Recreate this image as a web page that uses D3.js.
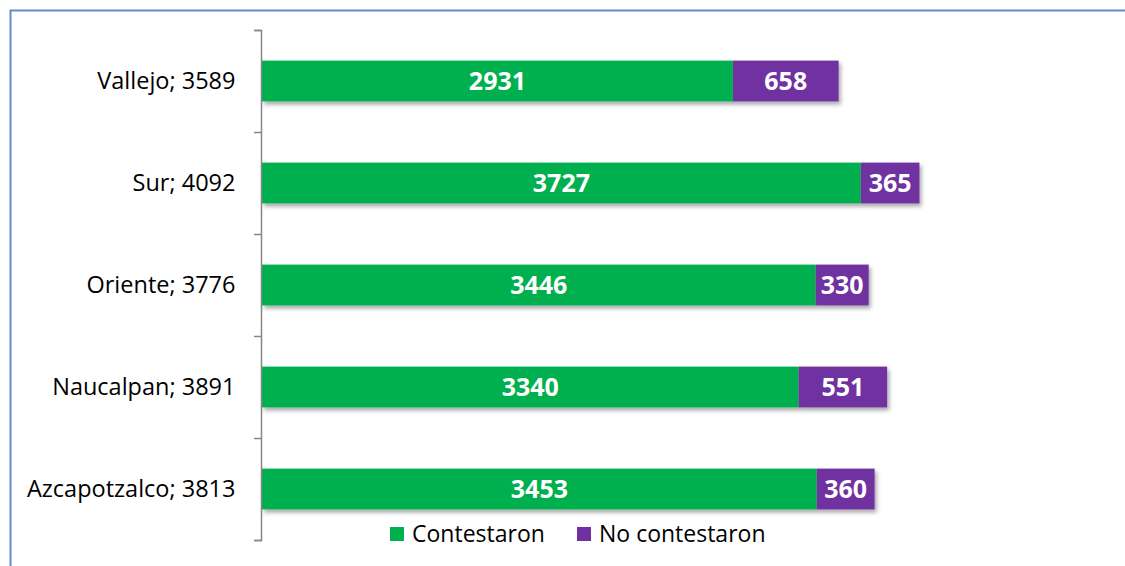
<!DOCTYPE html>
<html>
<head>
<meta charset="utf-8">
<script src="https://cdn.jsdelivr.net/npm/d3@7"></script>
<style>
  body { margin: 0; background: #fff; }
  text { font-family: "Open Sans", "Noto Sans", sans-serif; }
</style>
</head>
<body>
<div id="graphic"></div>
<script>
(function() {
  var W = 1125, H = 566;

  /*** DATA ***/
  var categories = ["Vallejo", "Sur", "Oriente", "Naucalpan", "Azcapotzalco"];
  var contestaron = [2931, 3727, 3446, 3340, 3453];
  var noContestaron = [658, 365, 330, 551, 360];
  var seriesNames = ["Contestaron", "No contestaron"];

  var green = "#00b050";
  var purple = "#7030a0";
  var axisColor = "#868686";

  var svg = d3.select("#graphic")
    .append("svg")
    .attr("width", W)
    .attr("height", H);

  // drop shadow for bars
  var defs = svg.append("defs");
  var f = defs.append("filter").attr("id", "shadow")
    .attr("x", "-5%").attr("y", "-20%").attr("width", "115%").attr("height", "160%");
  f.append("feDropShadow")
    .attr("dx", 2).attr("dy", 3).attr("stdDeviation", 2)
    .attr("flood-color", "#000").attr("flood-opacity", 0.35);

  // chart border
  svg.append("path")
    .attr("d", "M10.5," + H + "V10.5H" + W)
    .attr("fill", "none")
    .attr("stroke", "#5b8dcf")
    .attr("stroke-width", 2);

  /*** SCALES ***/
  var x = d3.scaleLinear().domain([0, 4500]).range([262, 985]);
  var y = d3.scaleBand().domain(categories).range([30, 540]).paddingInner(0.6).paddingOuter(0.3);

  var rows = categories.map(function(c, i) {
    return { cat: c, a: contestaron[i], b: noContestaron[i], total: contestaron[i] + noContestaron[i] };
  });

  /*** BARS ***/
  var bars = svg.append("g").selectAll(".row")
    .data(rows).enter().append("g")
    .attr("class", "row")
    .attr("filter", "url(#shadow)");

  bars.append("rect")
    .attr("x", x(0))
    .attr("y", function(d) { return y(d.cat); })
    .attr("width", function(d) { return x(d.a) - x(0); })
    .attr("height", y.bandwidth())
    .attr("fill", green);

  bars.append("rect")
    .attr("x", function(d) { return x(d.a); })
    .attr("y", function(d) { return y(d.cat); })
    .attr("width", function(d) { return x(d.total) - x(d.a); })
    .attr("height", y.bandwidth())
    .attr("fill", purple);

  /*** VALUE LABELS ***/
  var lab = svg.append("g").selectAll(".lab")
    .data(rows).enter().append("g");

  lab.append("text")
    .attr("x", function(d) { return (x(0) + x(d.a)) / 2; })
    .attr("y", function(d) { return y(d.cat) + y.bandwidth() / 2; })
    .attr("dy", "0.36em")
    .attr("text-anchor", "middle")
    .attr("fill", "#fff")
    .attr("font-weight", "bold")
    .attr("font-size", "25px")
    .text(function(d) { return d.a; });

  lab.append("text")
    .attr("x", function(d) { return (x(d.a) + x(d.total)) / 2; })
    .attr("y", function(d) { return y(d.cat) + y.bandwidth() / 2; })
    .attr("dy", "0.36em")
    .attr("text-anchor", "middle")
    .attr("fill", "#fff")
    .attr("font-weight", "bold")
    .attr("font-size", "25px")
    .text(function(d) { return d.b; });

  /*** AXIS ***/
  var yAxis = d3.axisLeft(y)
    .tickSize(0)
    .tickPadding(26)
    .tickFormat(function(c) {
      var r = rows[categories.indexOf(c)];
      return c + "; " + r.total;
    });

  var ax = svg.append("g")
    .attr("transform", "translate(261.5,0)")
    .call(yAxis);
  ax.select(".domain").attr("stroke", axisColor).attr("stroke-width", 1.5)
    .attr("d", "M-7,30.5H0V540.5H-7");
  ax.selectAll(".tick text")
    .attr("fill", "#000")
    .attr("font-size", "23.5px")
    .style("font-family", "'Open Sans', 'Noto Sans', sans-serif");

  // category boundary ticks
  var step = y.step();
  var bounds = d3.range(categories.length + 1).map(function(i) { return 30 + i * step; });
  svg.append("g").selectAll("line")
    .data(bounds).enter().append("line")
    .attr("x1", 254).attr("x2", 261.5)
    .attr("y1", function(d) { return Math.round(d) + 0.5; })
    .attr("y2", function(d) { return Math.round(d) + 0.5; })
    .attr("stroke", axisColor)
    .attr("stroke-width", 1.5);

  /*** LEGEND ***/
  var legendX = [390, 577];
  var leg = svg.append("g").selectAll(".leg")
    .data(seriesNames).enter().append("g")
    .attr("transform", function(d, i) { return "translate(" + legendX[i] + ",527)"; });
  leg.append("rect")
    .attr("width", 14).attr("height", 14)
    .attr("fill", function(d, i) { return i === 0 ? green : purple; });
  leg.append("text")
    .attr("x", 22).attr("y", 7)
    .attr("dy", "0.36em")
    .attr("font-size", "23px")
    .attr("fill", "#000")
    .text(function(d) { return d; });
})();
</script>
</body>
</html>
